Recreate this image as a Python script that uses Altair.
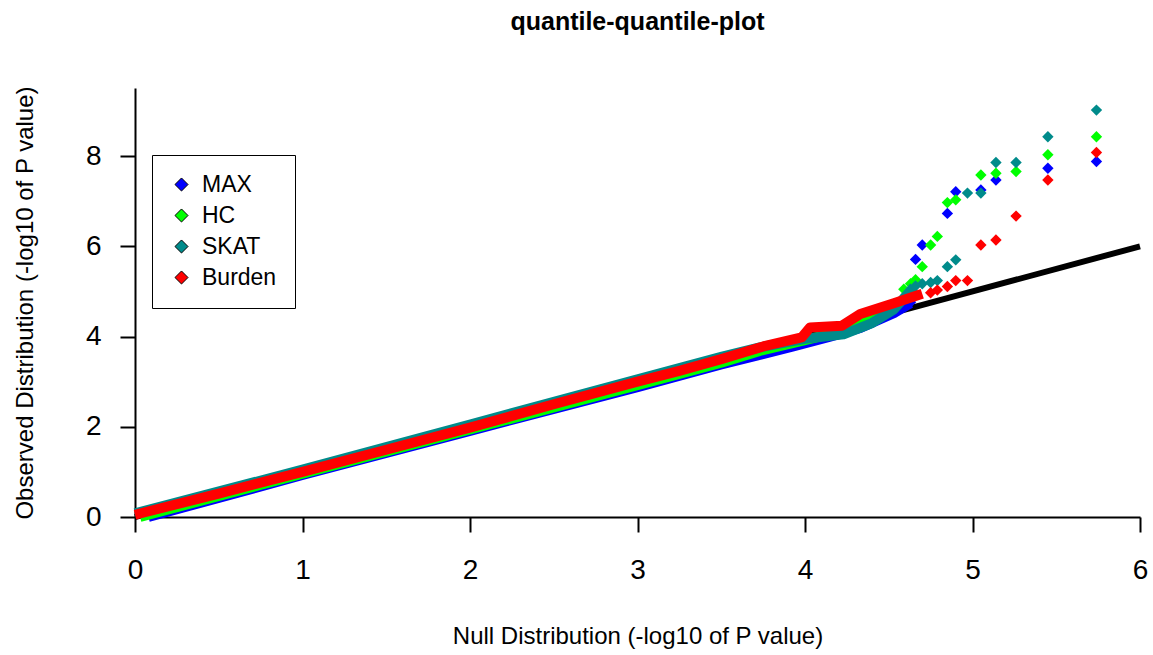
import altair as alt
import pandas as pd

# ---------------- data ----------------
series_names = ["MAX", "HC", "SKAT", "Burden"]
series_colors = ["#0000FF", "#00FF00", "#008B8B", "#FF0000"]

x_ticks = [0, 1, 2, 3, 4, 5, 6]
y_ticks = [0, 2, 4, 6, 8]

# reference line (expected = observed)
ref_x = [0, 6]
ref_y = [0, 6]

# dense part of each series (points so close they form a band)
max_band_x = [0.08, 1.0, 2.0, 3.0, 3.5, 3.93, 4.15, 4.33, 4.53, 4.63]
max_band_y = [0.0, 0.93, 1.91, 2.88, 3.38, 3.78, 4.0, 4.19, 4.52, 4.74]
hc_band_x = [0.03, 1.0, 2.0, 3.0, 3.5, 3.73, 4.0, 4.25, 4.4, 4.5]
hc_band_y = [0.0, 0.96, 1.94, 2.92, 3.42, 3.68, 3.92, 4.15, 4.38, 4.6]
skat_band_x = [0.0, 1.0, 2.0, 3.0, 3.5, 3.73, 4.0, 4.23, 4.4, 4.53, 4.65]
skat_band_y = [0.08, 1.05, 2.05, 3.05, 3.55, 3.76, 3.95, 4.05, 4.3, 4.6, 5.1]
burden_band_x = [0.0, 0.5, 1.0, 1.5, 2.0, 2.5, 3.0, 3.25, 3.5, 3.75, 3.98, 4.03, 4.22, 4.33, 4.53, 4.7]
burden_band_y = [0.05, 0.52, 1.0, 1.49, 1.98, 2.5, 3.0, 3.24, 3.5, 3.78, 3.98, 4.2, 4.24, 4.5, 4.74, 4.95]

# sparse tail points
max_tail_x = [4.63, 4.66, 4.70, 4.85, 4.90, 5.05, 5.14, 5.45, 5.74]
max_tail_y = [4.76, 5.71, 6.03, 6.73, 7.21, 7.25, 7.47, 7.73, 7.88]
hc_tail_x = [4.59, 4.63, 4.66, 4.70, 4.75, 4.79, 4.85, 4.90, 5.05, 5.14, 5.26, 5.45, 5.74]
hc_tail_y = [5.05, 5.17, 5.26, 5.55, 6.03, 6.22, 6.97, 7.03, 7.58, 7.62, 7.66, 8.03, 8.43]
skat_tail_x = [4.66, 4.70, 4.75, 4.79, 4.85, 4.90, 4.97, 5.05, 5.14, 5.26, 5.45, 5.74]
skat_tail_y = [5.12, 5.17, 5.20, 5.24, 5.55, 5.70, 7.18, 7.18, 7.86, 7.86, 8.43, 9.02]
burden_tail_x = [4.75, 4.79, 4.85, 4.90, 4.97, 5.05, 5.14, 5.26, 5.45, 5.74]
burden_tail_y = [4.97, 5.03, 5.11, 5.24, 5.24, 6.03, 6.14, 6.67, 7.47, 8.08]

bands = {
    "MAX": (max_band_x, max_band_y),
    "HC": (hc_band_x, hc_band_y),
    "SKAT": (skat_band_x, skat_band_y),
    "Burden": (burden_band_x, burden_band_y),
}
tails = {
    "MAX": (max_tail_x, max_tail_y),
    "HC": (hc_tail_x, hc_tail_y),
    "SKAT": (skat_tail_x, skat_tail_y),
    "Burden": (burden_tail_x, burden_tail_y),
}
color_of = dict(zip(series_names, series_colors))

FONT = "Liberation Sans"

x_scale = alt.Scale(domain=[0, 6], nice=False, zero=False)
y_scale = alt.Scale(domain=[0, 9.51], nice=False, zero=False)
color_scale = alt.Scale(domain=series_names, range=series_colors)

x_axis = alt.Axis(
    values=x_ticks, format="d", grid=False,
    title="Null Distribution (-log10 of P value)",
    domainColor="black", domainWidth=2, tickColor="black", tickWidth=2, tickSize=15,
    labelFont=FONT, labelFontSize=28, labelColor="black",
    labelBaseline="alphabetic", labelPadding=46, labelFlush=False, labelOverlap=False,
    titleFont=FONT, titleFontSize=24, titleFontWeight="normal", titleColor="black",
    titleY=126, titleBaseline="alphabetic",
)
y_axis = alt.Axis(
    values=y_ticks, format="d", grid=False,
    title="Observed Distribution (-log10 of P value)",
    domainColor="black", domainWidth=2, tickColor="black", tickWidth=2, tickSize=15,
    labelFont=FONT, labelFontSize=28, labelColor="black",
    labelPadding=19, labelFlush=False, labelOverlap=False,
    titleFont=FONT, titleFontSize=24, titleFontWeight="normal", titleColor="black",
    titleX=-103, titleAngle=270, titleBaseline="alphabetic",
)

legend = alt.Legend(
    title=None, orient="none", legendX=17, legendY=67,
    direction="vertical",
    strokeColor="black", fillColor="white", padding=18, cornerRadius=0,
    symbolType="diamond", symbolSize=170, symbolStrokeColor="black",
    symbolStrokeWidth=1, symbolOpacity=1,
    labelFont=FONT, labelFontSize=23, labelColor="black",
    labelOffset=9, rowPadding=7, labelLimit=0,
)

ref_df = pd.DataFrame({"x": ref_x, "y": ref_y})
ref_line = alt.Chart(ref_df).mark_line(color="black", strokeWidth=6, strokeCap="butt").encode(
    x=alt.X("x:Q", scale=x_scale, axis=x_axis),
    y=alt.Y("y:Q", scale=y_scale, axis=y_axis),
)

layers = [ref_line]
for name in series_names:
    bx, by = bands[name]
    band_df = pd.DataFrame({"x": bx, "y": by})
    layers.append(
        alt.Chart(band_df).mark_line(
            color=color_of[name], strokeWidth=10, strokeCap="butt", strokeJoin="round"
        ).encode(
            x=alt.X("x:Q", scale=x_scale, axis=x_axis),
            y=alt.Y("y:Q", scale=y_scale, axis=y_axis),
        )
    )
    tx, ty = tails[name]
    tail_df = pd.DataFrame({"x": tx, "y": ty, "series": name})
    layers.append(
        alt.Chart(tail_df).mark_point(
            filled=True, shape="diamond", size=130, opacity=1, stroke="black", strokeWidth=0
        ).encode(
            x=alt.X("x:Q", scale=x_scale, axis=x_axis),
            y=alt.Y("y:Q", scale=y_scale, axis=y_axis),
            color=alt.Color("series:N", scale=color_scale, legend=legend),
        )
    )

chart = alt.layer(*layers).properties(
    width=1005,
    height=429,
    background="white",
    padding={"left": 135, "top": 88, "right": 13, "bottom": 138},
    autosize=alt.AutoSizeParams(type="none"),
    title=alt.TitleParams(
        "quantile-quantile-plot", font=FONT, fontSize=25, fontWeight="bold",
        color="black", anchor="middle", offset=51,
    ),
).configure_view(stroke=None)

chart.save("out.html", embed_options={"renderer": "svg", "actions": False})
